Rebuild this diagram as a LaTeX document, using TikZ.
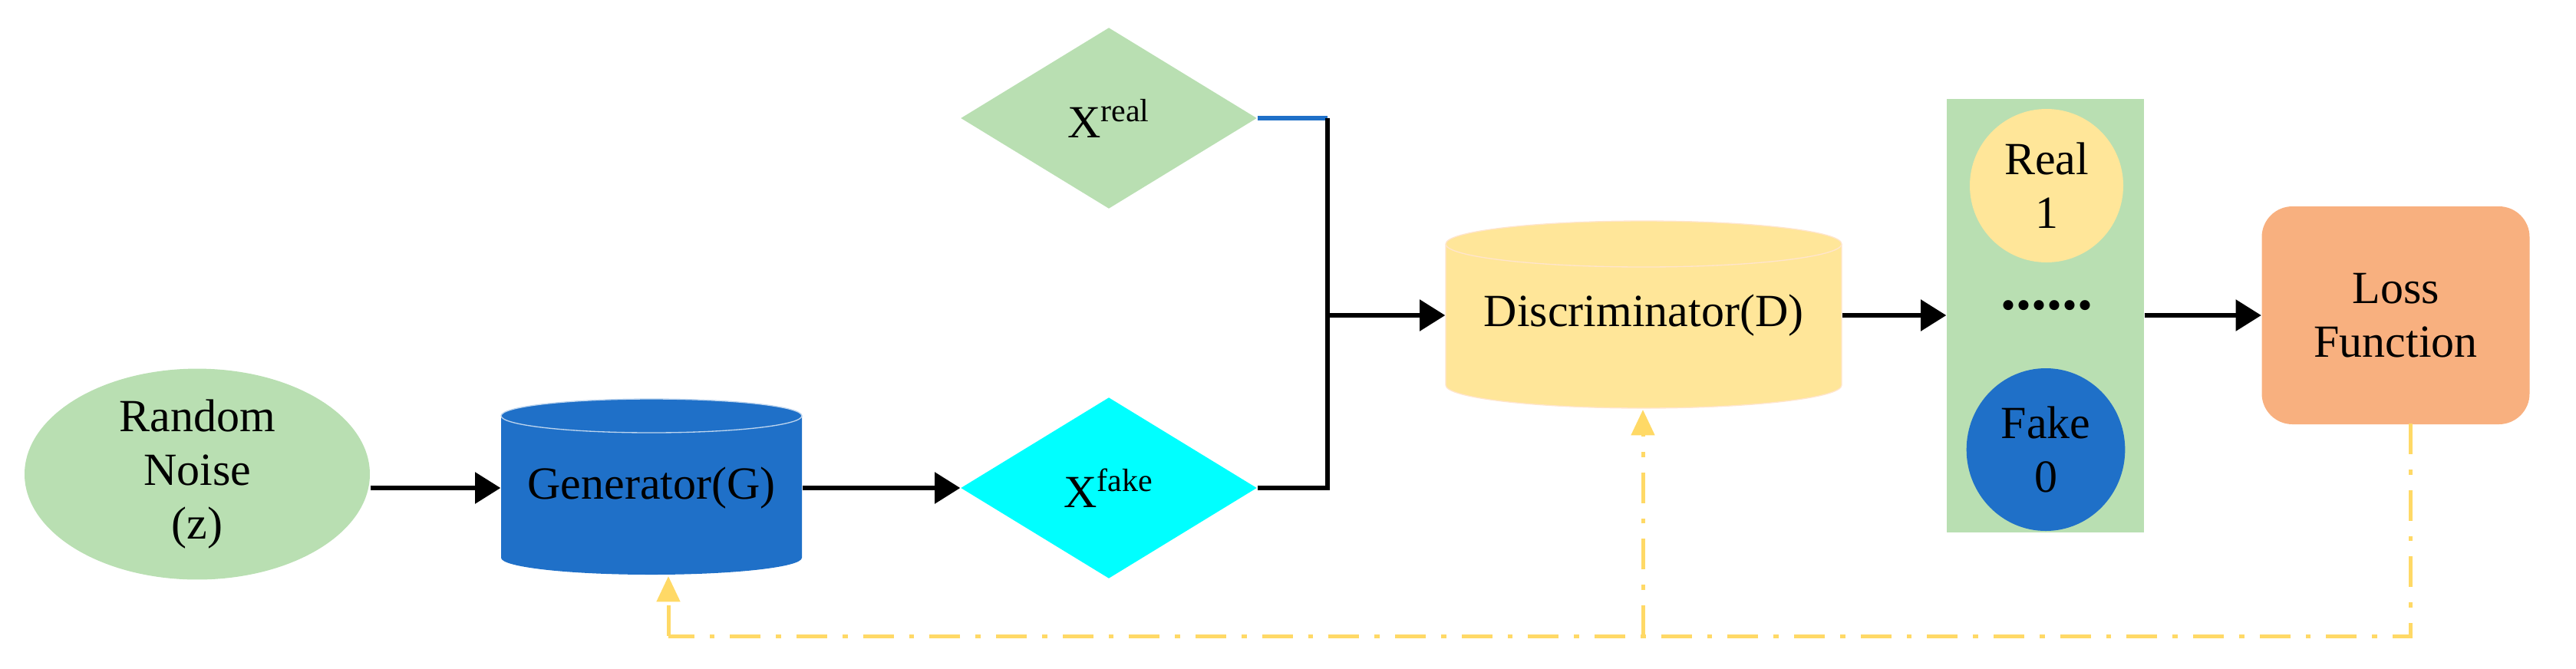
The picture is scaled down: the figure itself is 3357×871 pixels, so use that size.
\documentclass[tikz,border=0pt]{standalone}
\usepackage{fontspec}
\setmainfont{Liberation Serif}
\usetikzlibrary{shapes.geometric,arrows.meta}
\definecolor{lgreen}{HTML}{B9DFB2}
\definecolor{dblue}{HTML}{1F70C8}
\definecolor{lyellow}{HTML}{FFE699}
\definecolor{dyellow}{HTML}{FFD966}
\definecolor{lorange}{HTML}{F8B07F}
\definecolor{cyanx}{HTML}{00FFFF}
\begin{document}
\begin{tikzpicture}[x=0.3pt,y=-0.3pt,
  txt/.style={font=\fontsize{18}{21}\selectfont,align=center,inner sep=0},
  arr/.style={line width=1.8pt,-{Triangle[length=10pt,width=12pt]}},
  fb/.style={dyellow,line width=1.5pt,dash pattern=on 12pt off 6pt on 2pt off 6pt},
  fbarr/.style={fb,-{Triangle[length=10pt,width=9pt]}},
  dia/.style={diamond,inner sep=0,minimum width=115.8pt,minimum height=70.8pt,txt}]
\useasboundingbox (0,0) rectangle (3357,871);
% noise
\node[ellipse,fill=lgreen,minimum width=135pt,minimum height=70.8pt,txt] (noise) at (257,618) {Random\\Noise\\(z)};
% generator cylinder
\fill[dblue] (653,542) -- (653,727) arc[start angle=180,end angle=0,x radius=196,y radius=22] -- (1045,542) -- cycle;
\fill[dblue] (849,542) ellipse[x radius=196,y radius=22];
\draw[white!70!dblue,line width=0.4pt] (849,542) ellipse[x radius=196,y radius=22];
\node[txt,minimum width=117.6pt,minimum height=68.7pt] (gen) at (849,636) {Generator(G)};
% discriminator cylinder
\fill[lyellow] (1884,318) -- (1884,502) arc[start angle=180,end angle=0,x radius=258,y radius=30] -- (2400,318) -- cycle;
\draw[white!80!orange,line width=0.4pt] (1884,318) -- (1884,502) arc[start angle=180,end angle=0,x radius=258,y radius=30] -- (2400,318);
\fill[lyellow] (2142,318) ellipse[x radius=258,y radius=30];
\draw[white!80!orange,line width=0.4pt] (2142,318) ellipse[x radius=258,y radius=30];
\node[txt,minimum width=154.8pt,minimum height=72pt] (disc) at (2142,411) {Discriminator(D)};
% diamonds
\node[dia,fill=lgreen] (xreal) at (1445,154) {X\textsuperscript{real}};
\node[dia,fill=cyanx] (xfake) at (1445,636) {X\textsuperscript{fake}};
% panel
\node[fill=lgreen,inner sep=0,minimum width=77.1pt,minimum height=169.5pt] (panel) at (2665.5,411) {};
\node[ellipse,fill=lyellow,minimum width=60pt,minimum height=60pt,txt] (real) at (2667,242) {Real\\1};
\node[ellipse,fill=dblue,minimum width=62pt,minimum height=63.6pt,txt] (fake) at (2666,586) {Fake\\0};
\node[txt,font=\bfseries\fontsize{24}{26}\selectfont] (dots) at (2667,398) {......};
% loss
\node[rounded corners=12pt,fill=lorange,minimum width=104.7pt,minimum height=85.2pt,txt] (loss) at (3122,411) {Loss\\Function};
% arrows
\draw[arr] (noise.east |- gen.west) -- (gen.west);
\draw[arr] (gen.east) -- (xfake.west);
\coordinate (j) at (1730,411);
\draw[dblue,line width=1.8pt] (xreal.east) -- (1730,154);
\draw[line width=1.8pt] (1730,154) -- (1730,636) -- (xfake.east);
\draw[arr] (j) -- (disc.west);
\draw[arr] (disc.east) -- (panel.west);
\draw[arr] (panel.east) -- (loss.west);
% feedback
\coordinate (fb1) at (3141,829);
\coordinate (fb2) at (871,829);
\coordinate (fb3) at (2141,829);
\draw[fb] (3141,552) -- (fb1) -- (fb2);
\draw[fbarr] (fb2) -- (871,751);
\draw[fbarr] (fb3) -- (2141,534);
\end{tikzpicture}
\end{document}
